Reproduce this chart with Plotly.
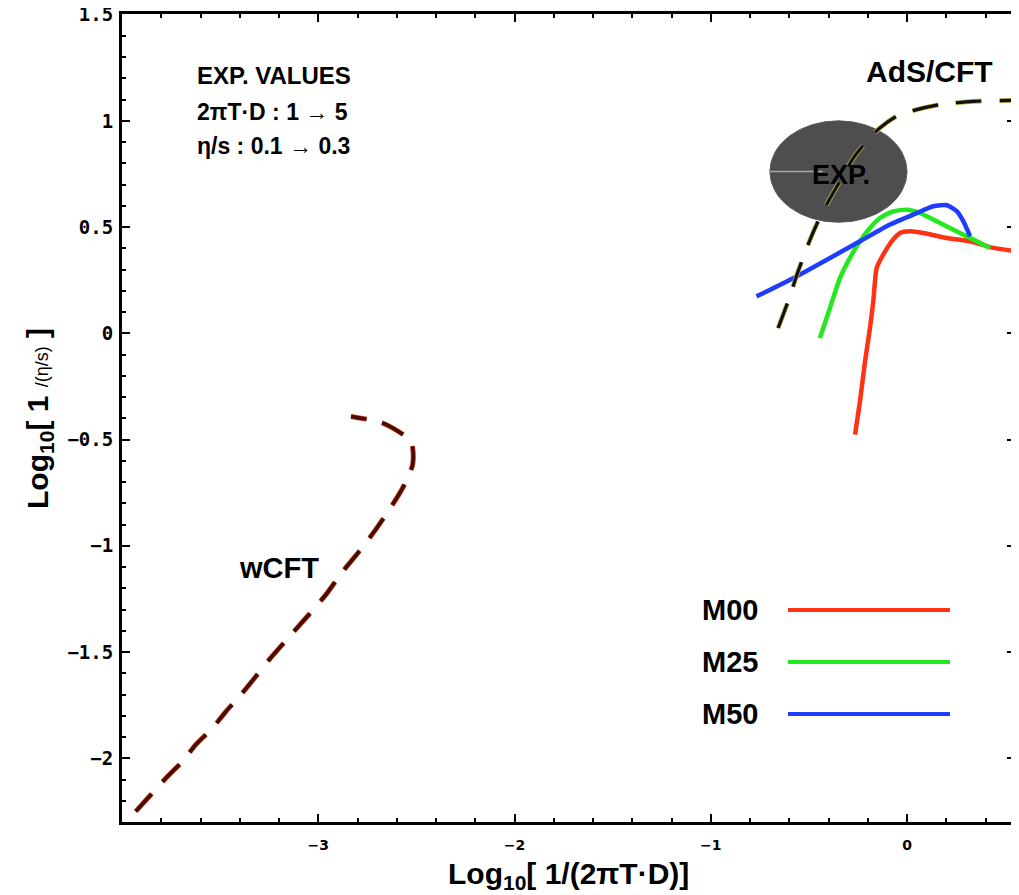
import numpy as np
import plotly.graph_objects as go

# ---------------- data ----------------
# M00 (red)
m00_x = [-0.265, -0.240, -0.214, -0.189, -0.172, -0.155, -0.121, -0.078, -0.036, 0.015, 0.083, 0.203, 0.321, 0.440, 0.550]
m00_y = [-0.477, -0.320, -0.132, 0.025, 0.151, 0.307, 0.371, 0.433, 0.472, 0.480, 0.472, 0.449, 0.433, 0.402, 0.388]
# M25 (green)
m25_x = [-0.444, -0.393, -0.342, -0.291, -0.240, -0.189, -0.138, -0.070, -0.002, 0.066, 0.168, 0.270, 0.356, 0.423]
m25_y = [-0.022, 0.119, 0.260, 0.355, 0.433, 0.496, 0.543, 0.574, 0.582, 0.566, 0.519, 0.472, 0.433, 0.402]
# M50 (blue)
m50_x = [-0.767, -0.563, -0.240, -0.087, 0.049, 0.134, 0.203, 0.254, 0.287, 0.321]
m50_y = [0.174, 0.268, 0.433, 0.512, 0.566, 0.598, 0.603, 0.574, 0.527, 0.457]
# AdS/CFT (black dashed)
ads_x = [-0.657, -0.606, -0.555, -0.504, -0.461, -0.410, -0.342, -0.274, -0.206, -0.138, -0.053, 0.049, 0.168, 0.338, 0.550]
ads_y = [0.025, 0.151, 0.292, 0.418, 0.512, 0.606, 0.716, 0.825, 0.904, 0.967, 1.022, 1.053, 1.077, 1.092, 1.097]
# wCFT (dark red dashed)
wcft_x = [-3.930, -3.853, -3.777, -3.692, -3.624, -3.539, -3.471, -3.394, -3.318, -3.250, -3.139, -3.063,
          -2.961, -2.876, -2.791, -2.714, -2.638, -2.570, -2.519, -2.527, -2.673, -2.833]
wcft_y = [-2.250, -2.172, -2.094, -2.015, -1.936, -1.858, -1.780, -1.701, -1.615, -1.536, -1.419, -1.340,
          -1.230, -1.121, -1.026, -0.932, -0.830, -0.728, -0.618, -0.508, -0.422, -0.391]
# experimental ranges
exp_2piTD = [1.0, 5.0]
exp_eta_s = [0.1, 0.3]

x_ticks = [-3, -2, -1, 0]
y_ticks = [-2, -1.5, -1, -0.5, 0, 0.5, 1, 1.5]
y_ticktext = ["−2", "−1.5", "−1", "−0.5", "0", "0.5", "1", "1.5"]
x_range = [-4.0, 0.55]
y_range = [-2.3, 1.503]

legend_names = ["M00", "M25", "M50"]
legend_colors = ["#ff3314", "#22e81e", "#1f3dff"]

# ---------------- figure ----------------
fig = go.Figure()

# experimental region (ellipse)
ex = np.log10(1.0 / np.array(exp_2piTD))
ey = np.log10(1.0 / np.array(exp_eta_s))
x0, x1 = min(ex), max(ex)
y0, y1 = min(ey), max(ey)
xc, yc = (x0 + x1) / 2, (y0 + y1) / 2
fig.add_shape(type="circle", xref="x", yref="y", x0=x0, x1=x1, y0=y0, y1=y1,
              fillcolor="#4e4e4e", line=dict(color="#585858", width=1), layer="below")
fig.add_shape(type="line", xref="x", yref="y", x0=x0, x1=xc - 0.08, y0=yc, y1=yc,
              line=dict(color="#a8a8a8", width=1.5), layer="below")

series = [(m00_x, m00_y), (m25_x, m25_y), (m50_x, m50_y)]
for (sx, sy), name, col in zip(series, legend_names, legend_colors):
    fig.add_trace(go.Scatter(x=sx, y=sy, mode="lines", name=name,
                             line=dict(color=col, width=4.5, shape="spline", smoothing=0.6),
                             showlegend=False, hoverinfo="skip"))

# AdS/CFT: faint olive halo + black dashes
fig.add_trace(go.Scatter(x=ads_x, y=ads_y, mode="lines", showlegend=False, hoverinfo="skip",
                         line=dict(color="#bfb04a", width=4.8, dash="26px,18px", shape="spline", smoothing=0.6)))
fig.add_trace(go.Scatter(x=ads_x, y=ads_y, mode="lines", showlegend=False, hoverinfo="skip",
                         line=dict(color="#111111", width=3.2, dash="26px,18px", shape="spline", smoothing=0.6)))

# wCFT: reddish halo + dark core
fig.add_trace(go.Scatter(x=wcft_x, y=wcft_y, mode="lines", showlegend=False, hoverinfo="skip",
                         line=dict(color="#b8401c", width=5.0, dash="24px,16px", shape="spline", smoothing=0.6)))
fig.add_trace(go.Scatter(x=wcft_x, y=wcft_y, mode="lines", showlegend=False, hoverinfo="skip",
                         line=dict(color="#4a0a02", width=3.5, dash="24px,16px", shape="spline", smoothing=0.6)))

FONT = "Liberation Sans"

# EXP. label on the ellipse
fig.add_annotation(x=xc, y=yc, xref="x", yref="y", text="EXP.", showarrow=False,
                   xanchor="center", yanchor="middle", yshift=-3, xshift=3,
                   font=dict(family=FONT, size=27, color="black", weight="bold"))

# upper-left text block
info = ["EXP. VALUES", "2πT·D : 1 → 5", "η/s : 0.1 → 0.3"]
info_size = [24, 23, 23]
info_y = [0.9245, 0.879, 0.8366]
for t, yy, sz in zip(info, info_y, info_size):
    fig.add_annotation(x=0.0817, y=yy, xref="paper", yref="paper", text=t, showarrow=False,
                       xanchor="left", yanchor="middle",
                       font=dict(family=FONT, size=sz, color="black", weight="bold"))

fig.add_annotation(x=0.9037, y=0.9286, xref="paper", yref="paper", text="AdS/CFT", showarrow=False,
                   xanchor="center", yanchor="middle",
                   font=dict(family=FONT, size=30, color="black", weight="bold"))
fig.add_annotation(x=0.1758, y=0.3147, xref="paper", yref="paper", text="wCFT", showarrow=False,
                   xanchor="center", yanchor="middle",
                   font=dict(family=FONT, size=29, color="black", weight="bold"))

# legend (manual)
leg_y = [0.2624, 0.198, 0.1337]
for name, col, yy in zip(legend_names, legend_colors, leg_y):
    fig.add_annotation(x=0.7144, y=yy, xref="paper", yref="paper", text=name, showarrow=False,
                       xanchor="right", yanchor="middle",
                       font=dict(family=FONT, size=29, color="black", weight="bold"))
    fig.add_shape(type="line", xref="paper", yref="paper", x0=0.7458, x1=0.9272, y0=yy, y1=yy,
                  line=dict(color=col, width=4))

# axis titles (annotations for exact placement)
fig.add_annotation(x=-0.093, y=0.5, xref="paper", yref="paper", textangle=-90, showarrow=False,
                   xanchor="center", yanchor="middle",
                   text="Log<sub>10</sub>[ 1 <span style='font-size:18px;font-weight:normal'>/(η/s)</span> ]",
                   font=dict(family=FONT, size=30, color="black", weight="bold"))
fig.add_annotation(x=0.5, y=-0.0656, xref="paper", yref="paper", showarrow=False,
                   xanchor="center", yanchor="middle",
                   text="Log<sub>10</sub>[ 1/(2πT·D)]",
                   font=dict(family=FONT, size=30, color="black", weight="bold"))

axis_common = dict(showline=True, linewidth=3, linecolor="black", mirror="ticks",
                   ticks="inside", ticklen=8, tickwidth=2, tickcolor="black",
                   showgrid=False, zeroline=False, ticklabeloverflow="allow", automargin=False)

fig.update_xaxes(range=x_range, tickmode="array", tickvals=x_ticks,
                 minor=dict(tick0=0, dtick=0.2, ticks="inside", ticklen=4, tickwidth=2, tickcolor="black"),
                 tickfont=dict(family="DejaVu Sans", size=14, color="black", weight="bold"),
                 ticklabelstandoff=8,
                 **axis_common)
fig.update_yaxes(range=y_range, tickmode="array", tickvals=y_ticks, ticktext=y_ticktext,
                 minor=dict(tick0=0, dtick=0.1, ticks="inside", ticklen=4, tickwidth=2, tickcolor="black"),
                 tickfont=dict(family="DejaVu Sans Mono", size=19, color="black", weight="bold"),
                 ticklabelstandoff=2,
                 **axis_common)

# the page body adds an 8px offset, so the figure is sized to fit the window
fig.update_layout(width=1011, height=887, margin=dict(l=114, r=4, t=6, b=73, autoexpand=False),
                  plot_bgcolor="white", paper_bgcolor="white", showlegend=False)

fig.write_html("out.html")
